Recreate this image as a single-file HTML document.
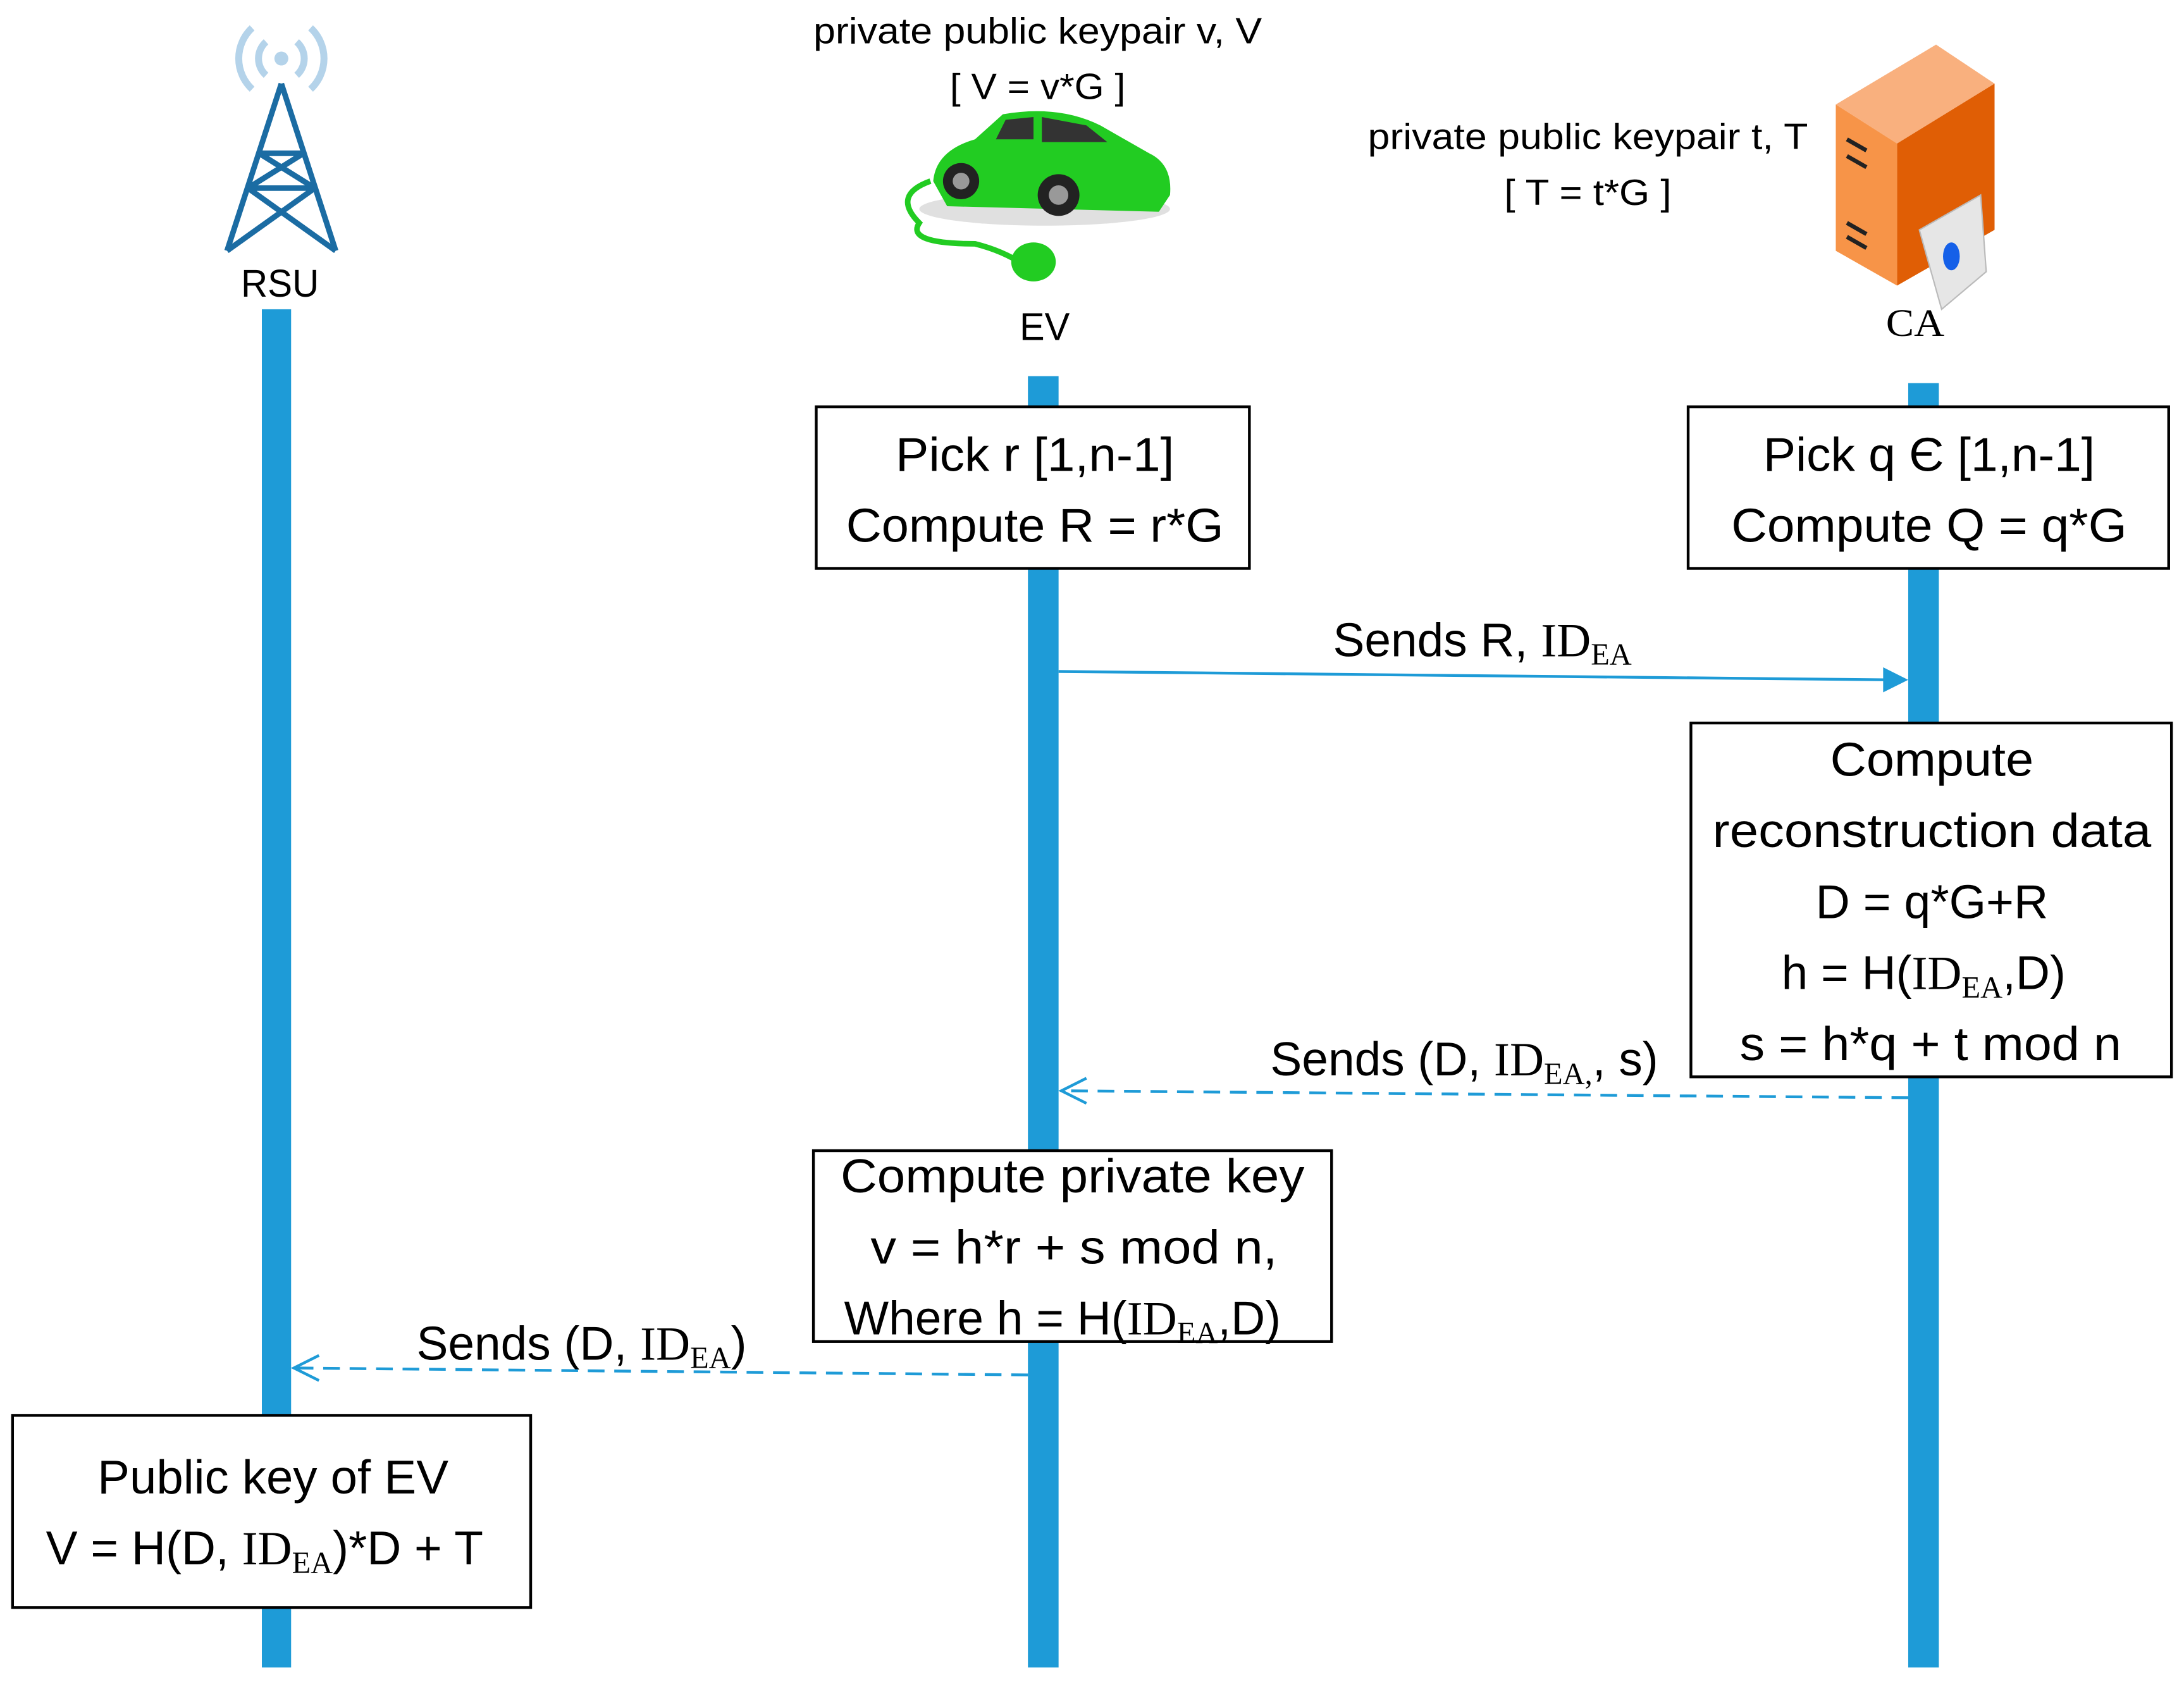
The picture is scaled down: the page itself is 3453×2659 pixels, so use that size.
<!DOCTYPE html>
<html><head><meta charset="utf-8"><style>
html,body{margin:0;padding:0;background:#fff;}
svg{display:block;}
text{font-family:"Liberation Sans",sans-serif;fill:#000;}
.s{font-family:"Liberation Serif",serif;}
</style></head><body>
<svg width="3453" height="2659" viewBox="0 0 1568 1207.4" xmlns="http://www.w3.org/2000/svg">
<!-- lifelines -->
<rect x="188" y="222" width="21" height="975" fill="#1E9BD7"/>
<rect x="738" y="270" width="22" height="927" fill="#1E9BD7"/>
<rect x="1370" y="275" width="22" height="922" fill="#1E9BD7"/>

<!-- tower -->
<g fill="none" stroke="#B4D3EA" stroke-width="5">
<path d="M191,30 A16,16 0 0 0 191,54"/><path d="M213,30 A16,16 0 0 1 213,54"/>
<path d="M181,20 A30,30 0 0 0 181,64"/><path d="M223,20 A30,30 0 0 1 223,64"/>
</g>
<circle cx="202" cy="42" r="5" fill="#B4D3EA"/>
<g fill="none" stroke="#1B6CA3" stroke-width="4">
<path d="M202,60 L163,180 M202,60 L241,180 M186,110 L218,110 M178,135 L226,135 M186,110 L226,135 M218,110 L178,135 M178,135 L241,180 M226,135 L163,180"/>
</g>
<text x="201" y="213" font-size="28" text-anchor="middle" textLength="56" lengthAdjust="spacingAndGlyphs">RSU</text>

<!-- car -->
<ellipse cx="750" cy="150" rx="90" ry="12" fill="#ccc" opacity="0.6"/>
<path d="M670,130 Q672,108 700,100 L720,82 Q760,75 790,90 L825,110 Q842,118 840,140 L832,152 L680,148 Z" fill="#22CC22"/>
<path d="M722,86 L742,84 L742,100 L715,100Z M748,84 L780,90 L795,102 L748,102Z" fill="#333"/>
<circle cx="690" cy="130" r="13" fill="#222"/><circle cx="760" cy="140" r="15" fill="#222"/>
<circle cx="690" cy="130" r="6" fill="#999"/><circle cx="760" cy="140" r="7" fill="#999"/>
<path d="M668,130 Q640,140 660,160 Q650,175 700,175 Q720,180 735,190" fill="none" stroke="#22CC22" stroke-width="4"/>
<ellipse cx="742" cy="188" rx="16" ry="14" fill="#22CC22"/>
<text x="745" y="31" font-size="26" text-anchor="middle" textLength="322" lengthAdjust="spacingAndGlyphs">private public keypair v, V</text>
<text x="745" y="71" font-size="26" text-anchor="middle" textLength="126" lengthAdjust="spacingAndGlyphs">[ V = v*G ]</text>
<text x="750" y="244" font-size="28" text-anchor="middle" textLength="36" lengthAdjust="spacingAndGlyphs">EV</text>

<!-- server -->
<path d="M1318,75 L1390,32 L1432,60 L1362,103 Z" fill="#F9B07E"/>
<path d="M1318,75 L1362,103 L1362,205 L1318,180 Z" fill="#F79448"/>
<path d="M1362,103 L1432,60 L1432,165 L1362,205 Z" fill="#E05E05"/>
<path d="M1326,100 L1340,108 M1326,112 L1340,120 M1326,160 L1340,168 M1326,170 L1340,178" stroke="#222" stroke-width="3"/>
<path d="M1378,165 L1422,140 L1426,195 L1394,222 Z" fill="#E6E6E6" stroke="#bbb"/>
<ellipse cx="1401" cy="184" rx="6" ry="10" fill="#1560E8"/>
<text x="1140" y="107" font-size="26" text-anchor="middle" textLength="316" lengthAdjust="spacingAndGlyphs">private public keypair t, T</text>
<text x="1140" y="147" font-size="26" text-anchor="middle" textLength="120" lengthAdjust="spacingAndGlyphs">[ T = t*G ]</text>
<text x="1375" y="241" font-size="28" text-anchor="middle" class="s" textLength="42" lengthAdjust="spacingAndGlyphs">CA</text>

<!-- boxes -->
<g fill="#fff" stroke="#000" stroke-width="2">
<rect x="586" y="292" width="311" height="116"/>
<rect x="1212" y="292" width="345" height="116"/>
<rect x="1214" y="519" width="345" height="254"/>
<rect x="584" y="826" width="372" height="137"/>
<rect x="9" y="1016" width="372" height="138"/>
</g>
<g font-size="34">
<text x="743" y="338" text-anchor="middle" textLength="200" lengthAdjust="spacingAndGlyphs">Pick r [1,n-1]</text>
<text x="743" y="389" text-anchor="middle" textLength="271" lengthAdjust="spacingAndGlyphs">Compute R = r*G</text>
<text x="1385" y="338" text-anchor="middle" textLength="238" lengthAdjust="spacingAndGlyphs">Pick q Є [1,n-1]</text>
<text x="1385" y="389" text-anchor="middle" textLength="284" lengthAdjust="spacingAndGlyphs">Compute Q = q*G</text>
<text x="1387" y="557" text-anchor="middle" textLength="146" lengthAdjust="spacingAndGlyphs">Compute</text>
<text x="1387" y="608" text-anchor="middle" textLength="315" lengthAdjust="spacingAndGlyphs">reconstruction data</text>
<text x="1387" y="659" text-anchor="middle" textLength="167" lengthAdjust="spacingAndGlyphs">D = q*G+R</text>
<text x="1279" y="710">h = H(<tspan class="s">ID</tspan><tspan class="s" font-size="22" dy="6">EA</tspan><tspan dy="-6">,D)</tspan></text>
<text x="1386" y="761" text-anchor="middle" textLength="274" lengthAdjust="spacingAndGlyphs">s = h*q + t mod n</text>
<text x="957" y="471">Sends R, <tspan class="s">ID</tspan><tspan class="s" font-size="22" dy="6">EA</tspan></text>
<text x="912" y="772">Sends (D, <tspan class="s">ID</tspan><tspan class="s" font-size="22" dy="6">EA,</tspan><tspan dy="-6">, s)</tspan></text>
<text x="770" y="856" text-anchor="middle" textLength="333" lengthAdjust="spacingAndGlyphs">Compute private key</text>
<text x="771" y="907" text-anchor="middle" textLength="292" lengthAdjust="spacingAndGlyphs">v = h*r  + s mod n,</text>
<text x="606" y="958">Where h = H(<tspan class="s">ID</tspan><tspan class="s" font-size="22" dy="6">EA</tspan><tspan dy="-6">,D)</tspan></text>
<text x="299" y="976">Sends (D, <tspan class="s">ID</tspan><tspan class="s" font-size="22" dy="6">EA</tspan><tspan dy="-6">)</tspan></text>
<text x="196" y="1072" text-anchor="middle" textLength="252" lengthAdjust="spacingAndGlyphs">Public key of EV</text>
<text x="33" y="1123">V = H(D, <tspan class="s">ID</tspan><tspan class="s" font-size="22" dy="6">EA</tspan><tspan dy="-6">)*D + T</tspan></text>
</g>

<!-- arrows -->
<line x1="760" y1="482" x2="1355" y2="488" stroke="#1E9BD7" stroke-width="2"/>
<path d="M1352,479 L1370,488 L1352,497Z" fill="#1E9BD7"/>
<line x1="1370" y1="788" x2="762" y2="783" stroke="#1E9BD7" stroke-width="2" stroke-dasharray="12,7"/>
<path d="M780,774 L762,783 L780,792" fill="none" stroke="#1E9BD7" stroke-width="2"/>
<line x1="738" y1="987" x2="211" y2="982" stroke="#1E9BD7" stroke-width="2" stroke-dasharray="12,7"/>
<path d="M229,973 L211,982 L229,991" fill="none" stroke="#1E9BD7" stroke-width="2"/>
</svg>
</body></html>
